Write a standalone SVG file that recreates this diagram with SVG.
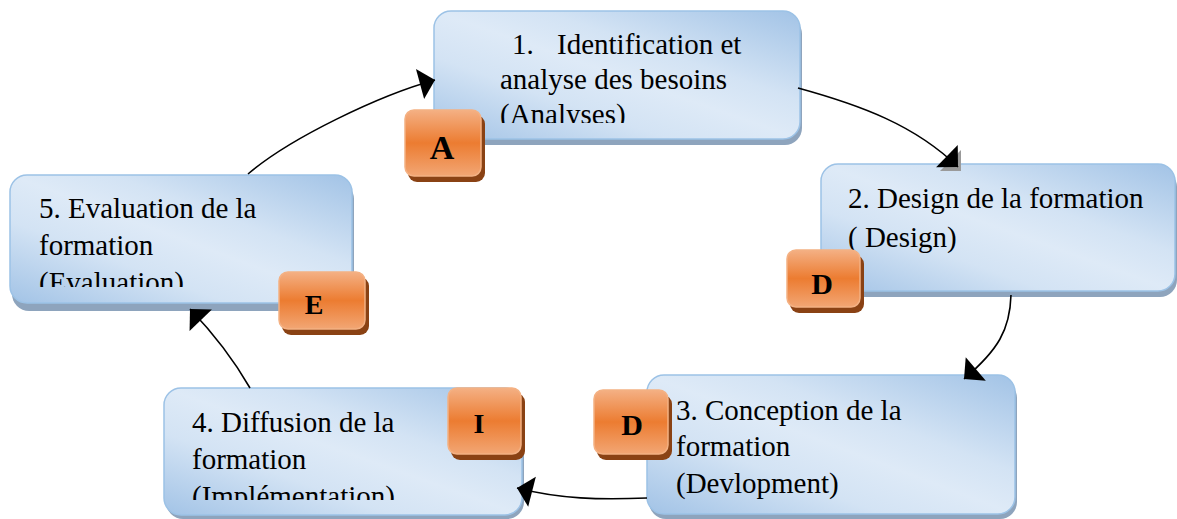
<svg xmlns="http://www.w3.org/2000/svg" width="1177" height="519" viewBox="0 0 1177 519">
  <style>
    .box { fill: url(#boxGrad); stroke: #9cc2e6; stroke-width: 1.5; }
    .boxsh { fill: #8ea4bd; }
    .badge { fill: url(#badgeGrad); stroke: #f4b183; stroke-width: 1.5; }
    .badgesh { fill: #8a4214; }
    .t { font-family: "Liberation Serif", "Times New Roman", serif; font-size: 29px; fill: #000; }
    .bl { font-family: "Liberation Serif", "Times New Roman", serif; font-weight: bold; fill: #000; text-anchor: middle; }
    .conn { fill: none; stroke: #000; stroke-width: 1.6; }
  </style>
  <defs>
    <linearGradient id="boxGrad" x1="1" y1="0" x2="0" y2="1">
      <stop offset="0" stop-color="#a2c3e6"/>
      <stop offset="0.35" stop-color="#d3e3f4"/>
      <stop offset="0.5" stop-color="#deeaf7"/>
      <stop offset="0.68" stop-color="#d3e3f4"/>
      <stop offset="1" stop-color="#a2c3e6"/>
    </linearGradient>
    <linearGradient id="badgeGrad" x1="0" y1="0" x2="0" y2="1">
      <stop offset="0" stop-color="#f4b084"/>
      <stop offset="0.5" stop-color="#ec7c31"/>
      <stop offset="1" stop-color="#f2a674"/>
    </linearGradient>
    <marker id="arrow" markerUnits="userSpaceOnUse" markerWidth="16" markerHeight="31" viewBox="0 0 15 30" refX="15" refY="15" orient="auto" overflow="visible">
      <path d="M0,0 L15,15 L0,30 Z" fill="#000"/>
    </marker>
    <clipPath id="clip1"><rect x="434" y="11" width="366" height="112"/></clipPath>
    <clipPath id="clip4"><rect x="164" y="388" width="358" height="112"/></clipPath>
    <clipPath id="clip5"><rect x="10" y="175" width="342" height="112"/></clipPath>
  </defs>

  <g id="node1">
    <rect class="boxsh" x="436" y="17" width="366" height="128" rx="17"/>
    <rect class="box" x="434" y="11" width="366" height="128" rx="17"/>
    <text class="t" clip-path="url(#clip1)"><tspan x="512" y="54">1.</tspan><tspan x="557" y="54">Identification et</tspan><tspan x="500" y="89">analyse des besoins</tspan><tspan x="500" y="124">(Analyses)</tspan></text>
  </g>
  <g id="node2">
    <rect class="boxsh" x="823" y="170" width="354" height="127" rx="17"/>
    <rect class="box" x="821" y="164" width="354" height="127" rx="17"/>
    <text class="t"><tspan x="848" y="208">2. Design de la formation</tspan><tspan x="848" y="247">( Design)</tspan></text>
  </g>
  <g id="node3">
    <rect class="boxsh" x="649" y="381" width="368" height="138" rx="17"/>
    <rect class="box" x="647" y="375" width="368" height="139" rx="17"/>
    <text class="t"><tspan x="676" y="420">3. Conception de la</tspan><tspan x="676" y="456">formation</tspan><tspan x="676" y="493">(Devlopment)</tspan></text>
  </g>
  <g id="node4">
    <rect class="boxsh" x="166" y="394" width="358" height="125" rx="17"/>
    <rect class="box" x="164" y="388" width="358" height="127" rx="17"/>
    <text class="t" clip-path="url(#clip4)"><tspan x="192" y="432">4. Diffusion de la</tspan><tspan x="192" y="469">formation</tspan><tspan x="192" y="506">(Implémentation)</tspan></text>
  </g>
  <g id="node5">
    <rect class="boxsh" x="12" y="182" width="342" height="129" rx="17"/>
    <rect class="box" x="10" y="175" width="342" height="128" rx="17"/>
    <text class="t" clip-path="url(#clip5)"><tspan x="39" y="218">5. Evaluation de la</tspan><tspan x="39" y="255">formation</tspan><tspan x="39" y="292">(Evaluation)</tspan></text>
  </g>

  <g id="connectors">
    <path class="conn" d="M248,174 C290,138 380,95 435,80" marker-end="url(#arrow)"/>
    <polygon points="940,171 961,150 961,171" fill="#9a9a9a"/>
    <path class="conn" d="M798,88 C860,105 915,125 958,167" marker-end="url(#arrow)"/>
    <path class="conn" d="M1011,295 C1010,330 998,350 964,379" marker-end="url(#arrow)"/>
    <path class="conn" d="M647,498 C600,500 560,499 517,488" marker-end="url(#arrow)"/>
    <path class="conn" d="M250,388 C235,362 215,335 190,309" marker-end="url(#arrow)"/>
  </g>

  <g id="badgeA">
    <rect class="badgesh" x="408" y="115" width="77" height="67" rx="9"/>
    <rect class="badge" x="405" y="110" width="76" height="66" rx="9"/>
    <text class="bl" x="442" y="159" font-size="34">A</text>
  </g>
  <g id="badgeD1">
    <rect class="badgesh" x="790" y="255" width="74" height="58" rx="9"/>
    <rect class="badge" x="787" y="250" width="73" height="57" rx="9"/>
    <text class="bl" x="822" y="294" font-size="30">D</text>
  </g>
  <g id="badgeD2">
    <rect class="badgesh" x="597" y="395" width="75" height="65" rx="9"/>
    <rect class="badge" x="594" y="390" width="74" height="64" rx="9"/>
    <text class="bl" x="632" y="435" font-size="30">D</text>
  </g>
  <g id="badgeI">
    <rect class="badgesh" x="451" y="393" width="74" height="67" rx="9"/>
    <rect class="badge" x="448" y="388" width="73" height="66" rx="9"/>
    <text class="bl" x="479" y="433" font-size="28">I</text>
  </g>
  <g id="badgeE">
    <rect class="badgesh" x="282" y="277" width="87" height="58" rx="9"/>
    <rect class="badge" x="279" y="272" width="86" height="57" rx="9"/>
    <text class="bl" x="314" y="314" font-size="28">E</text>
  </g>
</svg>
